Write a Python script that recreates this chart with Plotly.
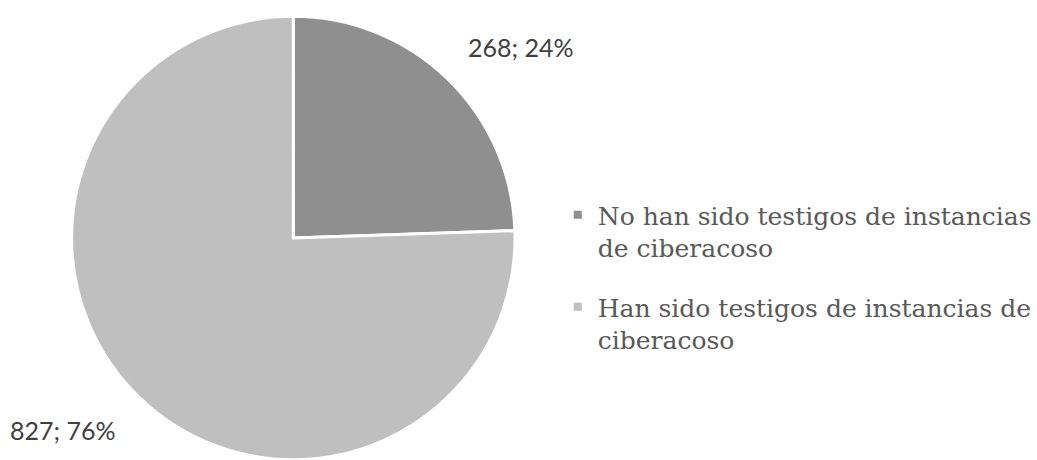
import plotly.graph_objects as go

labels = ["No han sido testigos de instancias<br>de ciberacoso",
          "Han sido testigos de instancias de<br>ciberacoso"]
values = [268, 827]
colors = ["#8f8f8f", "#bfbfbf"]

total = sum(values)
pcts = [round(v / total * 100) for v in values]
label_texts = [f"{v}; {p}%" for v, p in zip(values, pcts)]

W, H = 1037, 460
# pie box in pixels (left, right, top, bottom)
pl, pr, pt, pb = 72, 518, 16, 460

fig = go.Figure()
fig.add_trace(go.Pie(
    labels=labels,
    values=values,
    sort=False,
    direction="clockwise",
    rotation=0,
    marker=dict(colors=colors, line=dict(color="white", width=3)),
    textinfo="none",
    hoverinfo="label+value+percent",
    showlegend=False,
    domain=dict(x=[pl / W, pr / W], y=[(H - pb) / H, (H - pt) / H]),
))

# legend entries (one per slice)
for i, (lab, col) in enumerate(zip(labels, colors)):
    fig.add_trace(go.Scatter(
        x=[None], y=[None], mode="markers", name=lab,
        marker=dict(symbol="square", size=8, color=col),
        legendgroup=f"g{i}", showlegend=True, hoverinfo="skip",
    ))

label_pos = [(524, 47), (63, 430)]
for t, (x, y) in zip(label_texts, label_pos):
    fig.add_annotation(x=x / W, y=1 - y / H, xref="paper", yref="paper",
                       text=t, showarrow=False, xanchor="center", yanchor="middle",
                       font=dict(family="Lato", size=25, color="#404040"))

fig.update_layout(
    width=W, height=H,
    margin=dict(l=0, r=0, t=0, b=0),
    paper_bgcolor="white",
    plot_bgcolor="white",
    xaxis=dict(visible=False),
    yaxis=dict(visible=False),
    legend=dict(x=561 / W, y=1 - 192 / H, xanchor="left", yanchor="top",
                font=dict(family="DejaVu Serif", size=25, color="#595959"),
                tracegroupgap=24, itemwidth=30, valign="top"),
)

fig.write_html("out.html",
               config={"displayModeBar": False},
               post_script="document.body.style.margin='0px';document.body.style.overflow='hidden';")
